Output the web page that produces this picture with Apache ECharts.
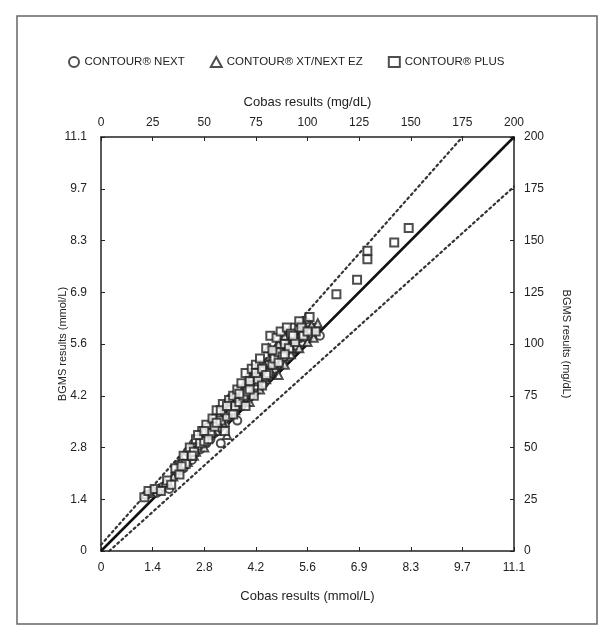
<!DOCTYPE html>
<html>
<head>
<meta charset="utf-8">
<script src="https://cdn.jsdelivr.net/npm/echarts@6/dist/echarts.min.js"></script>
<style>
  html, body { margin: 0; padding: 0; background: #fff; }
  #chart { width: 609px; height: 635px; }
</style>
</head>
<body>
<div id="chart"></div>
<script>
// tick labels (axes run 0..200 mg/dL, mmol/L labels are the same ticks)
var mmolLabels = ['0', '1.4', '2.8', '4.2', '5.6', '6.9', '8.3', '9.7', '11.1']
var mgLabels = ['0', '25', '50', '75', '100', '125', '150', '175', '200']

// [Cobas mg/dL, BGMS mg/dL]
var contourNext = [
  [22, 27], [25, 29], [27, 28], [30, 31], [33, 30], [36, 37], [38, 42], [40, 40], [41, 45],
  [43, 47], [44, 44], [46, 50], [47, 53], [48, 49], [50, 55], [51, 52], [52, 58], [53, 54],
  [54, 60], [55, 57], [56, 63], [57, 59], [58, 52], [59, 64], [60, 61], [61, 67], [62, 70],
  [63, 65], [64, 68], [65, 72], [66, 63], [67, 74], [68, 70], [69, 77], [70, 73], [71, 79],
  [72, 75], [73, 81], [74, 77], [75, 84], [76, 79], [77, 83], [78, 86], [79, 81], [80, 88],
  [81, 84], [82, 92], [83, 87], [84, 96], [85, 89], [86, 93], [87, 99], [88, 91], [89, 96],
  [90, 103], [91, 94], [92, 100], [93, 97], [94, 104], [95, 99], [96, 106], [97, 101],
  [98, 108], [99, 103], [100, 110], [102, 105], [104, 108], [106, 104],
  [42, 48], [45, 52], [49, 53], [52, 60], [55, 64], [58, 66], [60, 66], [63, 74], [66, 75],
  [69, 73], [72, 84], [75, 78], [78, 90], [81, 90], [84, 88], [87, 96], [90, 99], [93, 108],
  [96, 103], [99, 106]
]
var contourXt = [
  [24, 28], [28, 30], [31, 33], [35, 36], [37, 39], [39, 44], [42, 43], [44, 49], [45, 46],
  [47, 51], [49, 56], [50, 50], [52, 56], [53, 61], [55, 62], [56, 58], [57, 66], [59, 62],
  [60, 70], [61, 56], [62, 66], [63, 72], [64, 69], [65, 76], [66, 71], [68, 74], [69, 80],
  [70, 76], [71, 83], [72, 72], [73, 78], [74, 86], [75, 80], [76, 88], [77, 78], [78, 84],
  [79, 90], [80, 83], [81, 98], [82, 87], [84, 90], [85, 99], [86, 85], [87, 94], [88, 102],
  [89, 90], [90, 97], [91, 106], [92, 95], [93, 102], [95, 108], [96, 98], [97, 105],
  [99, 112], [100, 101], [101, 107], [103, 103], [105, 110],
  [40, 42], [46, 48], [48, 54], [51, 57], [54, 58], [57, 62], [60, 64], [62, 68], [65, 68],
  [67, 78], [70, 80], [73, 84], [76, 82], [79, 84], [83, 94], [86, 100], [89, 104], [92, 98],
  [95, 103], [98, 110], [102, 109]
]
var contourPlus = [
  [21, 26], [23, 29], [26, 30], [29, 29], [32, 34], [34, 32], [36, 40], [38, 37], [40, 46],
  [41, 42], [43, 50], [45, 48], [46, 54], [48, 52], [49, 58], [50, 53], [51, 61], [53, 57],
  [54, 64], [55, 60], [56, 68], [58, 63], [59, 71], [60, 58], [61, 65], [62, 73], [63, 68],
  [64, 75], [65, 70], [66, 78], [67, 72], [68, 81], [69, 75], [70, 86], [71, 77], [72, 82],
  [73, 88], [74, 75], [75, 90], [76, 83], [77, 93], [78, 80], [79, 87], [80, 98], [81, 86],
  [82, 104], [83, 90], [84, 93], [85, 103], [86, 96], [87, 106], [88, 94], [89, 100],
  [90, 108], [91, 98], [92, 105], [94, 101], [96, 111], [98, 104], [101, 113], [104, 106],
  [39, 41], [44, 46], [47, 56], [50, 58], [52, 54], [56, 62], [58, 68], [61, 70], [64, 66],
  [67, 76], [70, 70], [72, 78], [75, 86], [78, 88], [80, 85], [83, 97], [86, 91], [89, 95],
  [93, 104], [97, 108], [100, 106],
  [114, 124], [124, 131], [129, 141], [129, 145], [142, 149], [149, 156]
]

// reference lines (mg/dL)
var identityLine = [[0, 0], [200, 200]]
var upperLimit = [[0, 3], [175, 200]]
var lowerLimit = [[4, 0], [200, 176]]

var font = "'Liberation Sans', Arial, sans-serif"
var ink = '#222'

var axisCommon = {
  type: 'value',
  min: 0,
  max: 200,
  interval: 25,
  axisLine: { show: true, onZero: false, lineStyle: { color: ink, width: 1.5 } },
  axisTick: { show: true, inside: true, length: 4, lineStyle: { color: ink, width: 1 } },
  splitLine: { show: false },
  nameLocation: 'middle',
  nameMoveOverlap: false,
}
var mmolFmt = function (v) { return mmolLabels[Math.round(v / 25)] }
var mgFmt = function (v) { return mgLabels[Math.round(v / 25)] }

var chart = echarts.init(document.getElementById('chart'))
var option = {
  backgroundColor: '#fff',
  animation: false,
  graphic: [{
    type: 'rect',
    shape: { x: 17, y: 16, width: 580, height: 608 },
    style: { fill: 'none', stroke: '#666', lineWidth: 1.5 },
  }],
  legend: {
    data: ['CONTOUR® NEXT', 'CONTOUR® XT/NEXT EZ', 'CONTOUR® PLUS'],
    left: 63,
    top: 51,
    itemWidth: 11,
    itemHeight: 10,
    itemGap: 25,
    textStyle: { fontFamily: font, fontSize: 11.5, color: ink },
  },
  grid: { left: 101, top: 137, width: 413, height: 414 },
  xAxis: [
    Object.assign({}, axisCommon, {
      position: 'bottom',
      name: 'Cobas results (mmol/L)',
      nameGap: 39,
      nameTextStyle: { fontFamily: font, fontSize: 13, color: ink },
      axisLabel: { formatter: mmolFmt, margin: 11, fontFamily: font, fontSize: 12, color: ink },
    }),
    Object.assign({}, axisCommon, {
      position: 'top',
      name: 'Cobas results (mg/dL)',
      nameGap: 28,
      nameTextStyle: { fontFamily: font, fontSize: 13, color: ink },
      axisLabel: { formatter: mgFmt, margin: 8, fontFamily: font, fontSize: 12, color: ink },
    }),
  ],
  yAxis: [
    Object.assign({}, axisCommon, {
      position: 'left',
      name: 'BGMS results (mmol/L)',
      nameGap: 33,
      nameRotate: 90,
      nameTextStyle: { fontFamily: font, fontSize: 11, color: ink },
      axisLabel: { formatter: mmolFmt, margin: 14, fontFamily: font, fontSize: 12, color: ink },
    }),
    Object.assign({}, axisCommon, {
      position: 'right',
      name: 'BGMS results (mg/dL)',
      nameGap: 47,
      nameRotate: -90,
      nameTextStyle: { fontFamily: font, fontSize: 11, color: ink },
      axisLabel: { formatter: mgFmt, margin: 10, fontFamily: font, fontSize: 12, color: ink },
    }),
  ],
  series: [
    {
      type: 'line', data: identityLine, symbol: 'none', silent: true, z: 1,
      lineStyle: { color: '#111', width: 2.5 },
    },
    {
      type: 'line', data: upperLimit, symbol: 'none', silent: true, z: 1,
      lineStyle: { color: '#333', width: 2.2, type: [2, 3.5], cap: 'round' },
    },
    {
      type: 'line', data: lowerLimit, symbol: 'none', silent: true, z: 1,
      lineStyle: { color: '#333', width: 2.2, type: [2, 3.5], cap: 'round' },
    },
    {
      name: 'CONTOUR® NEXT', type: 'scatter', data: contourNext,
      symbol: 'emptyCircle', symbolSize: 8,
      itemStyle: { color: ink, borderWidth: 1.3 },
    },
    {
      name: 'CONTOUR® XT/NEXT EZ', type: 'scatter', data: contourXt,
      symbol: 'emptyTriangle', symbolSize: 8,
      itemStyle: { color: ink, borderWidth: 1.3 },
    },
    {
      name: 'CONTOUR® PLUS', type: 'scatter', data: contourPlus,
      symbol: 'emptyRect', symbolSize: 8,
      itemStyle: { color: ink, borderWidth: 1.3 },
    },
  ],
}
option && chart.setOption(option)
</script>
</body>
</html>
